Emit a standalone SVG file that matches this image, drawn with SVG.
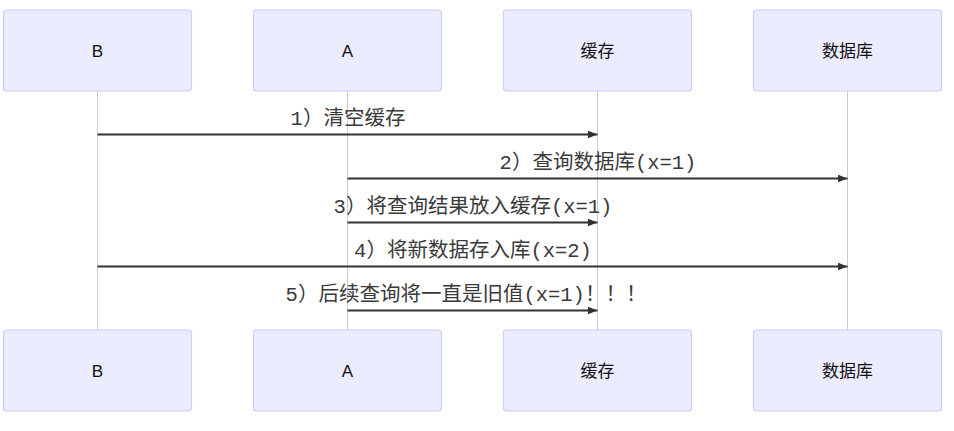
<svg xmlns="http://www.w3.org/2000/svg" width="954" height="431" viewBox="0 0 954 431">
<style>
.actor{fill:#ECECFF;stroke:#CCCCFF;stroke-width:1.2}
.atext{font-family:"Liberation Sans","Noto Sans CJK SC",sans-serif;font-size:17px;fill:#111;text-anchor:middle}
.life{stroke:#cccccc;stroke-width:1}
.msg{stroke:#333;stroke-width:2;fill:none}
.mtext{font-family:"Liberation Mono","Noto Sans CJK SC",monospace;font-size:20.5px;fill:#3a3a3a;text-anchor:middle}
</style>
<defs>
<marker id="arrow" viewBox="0 0 10 8" refX="10" refY="4" markerWidth="10" markerHeight="8" markerUnits="userSpaceOnUse" orient="auto">
<path d="M0,0 L10,4 L0,8 z" fill="#333"/>
</marker>
</defs>
<rect width="954" height="431" fill="#ffffff"/>
<g id="lifelines">
<line class="life" x1="97.5" y1="91" x2="97.5" y2="330"/>
<line class="life" x1="347.5" y1="91" x2="347.5" y2="330"/>
<line class="life" x1="597.5" y1="91" x2="597.5" y2="330"/>
<line class="life" x1="847.5" y1="91" x2="847.5" y2="330"/>
</g>
<g id="actor-B-top"><rect class="actor" x="3.5" y="10" width="188" height="81" rx="3"/><text class="atext" x="97.5" y="57">B</text></g>
<g id="actor-A-top"><rect class="actor" x="253.5" y="10" width="188" height="81" rx="3"/><text class="atext" x="347.5" y="57">A</text></g>
<g id="actor-cache-top"><rect class="actor" x="503.5" y="10" width="188" height="81" rx="3"/><text class="atext" x="597.5" y="57">缓存</text></g>
<g id="actor-db-top"><rect class="actor" x="753.5" y="10" width="188" height="81" rx="3"/><text class="atext" x="847.5" y="57">数据库</text></g>
<g id="actor-B-bottom"><rect class="actor" x="3.5" y="330" width="188" height="81" rx="3"/><text class="atext" x="97.5" y="377">B</text></g>
<g id="actor-A-bottom"><rect class="actor" x="253.5" y="330" width="188" height="81" rx="3"/><text class="atext" x="347.5" y="377">A</text></g>
<g id="actor-cache-bottom"><rect class="actor" x="503.5" y="330" width="188" height="81" rx="3"/><text class="atext" x="597.5" y="377">缓存</text></g>
<g id="actor-db-bottom"><rect class="actor" x="753.5" y="330" width="188" height="81" rx="3"/><text class="atext" x="847.5" y="377">数据库</text></g>
<g id="messages">
<line class="msg" x1="97.5" y1="134.5" x2="597.5" y2="134.5" marker-end="url(#arrow)"/>
<text class="mtext" x="348" y="125">1）清空缓存</text>
<line class="msg" x1="347.5" y1="178.5" x2="847.5" y2="178.5" marker-end="url(#arrow)"/>
<text class="mtext" x="598" y="169">2）查询数据库(x=1)</text>
<line class="msg" x1="347.5" y1="222.5" x2="597.5" y2="222.5" marker-end="url(#arrow)"/>
<text class="mtext" x="473" y="213">3）将查询结果放入缓存(x=1)</text>
<line class="msg" x1="97.5" y1="266.5" x2="847.5" y2="266.5" marker-end="url(#arrow)"/>
<text class="mtext" x="473" y="257">4）将新数据存入库(x=2)</text>
<line class="msg" x1="347.5" y1="310.5" x2="597.5" y2="310.5" marker-end="url(#arrow)"/>
<text class="mtext" x="466" y="301">5）后续查询将一直是旧值(x=1)！！！</text>
</g>
</svg>
